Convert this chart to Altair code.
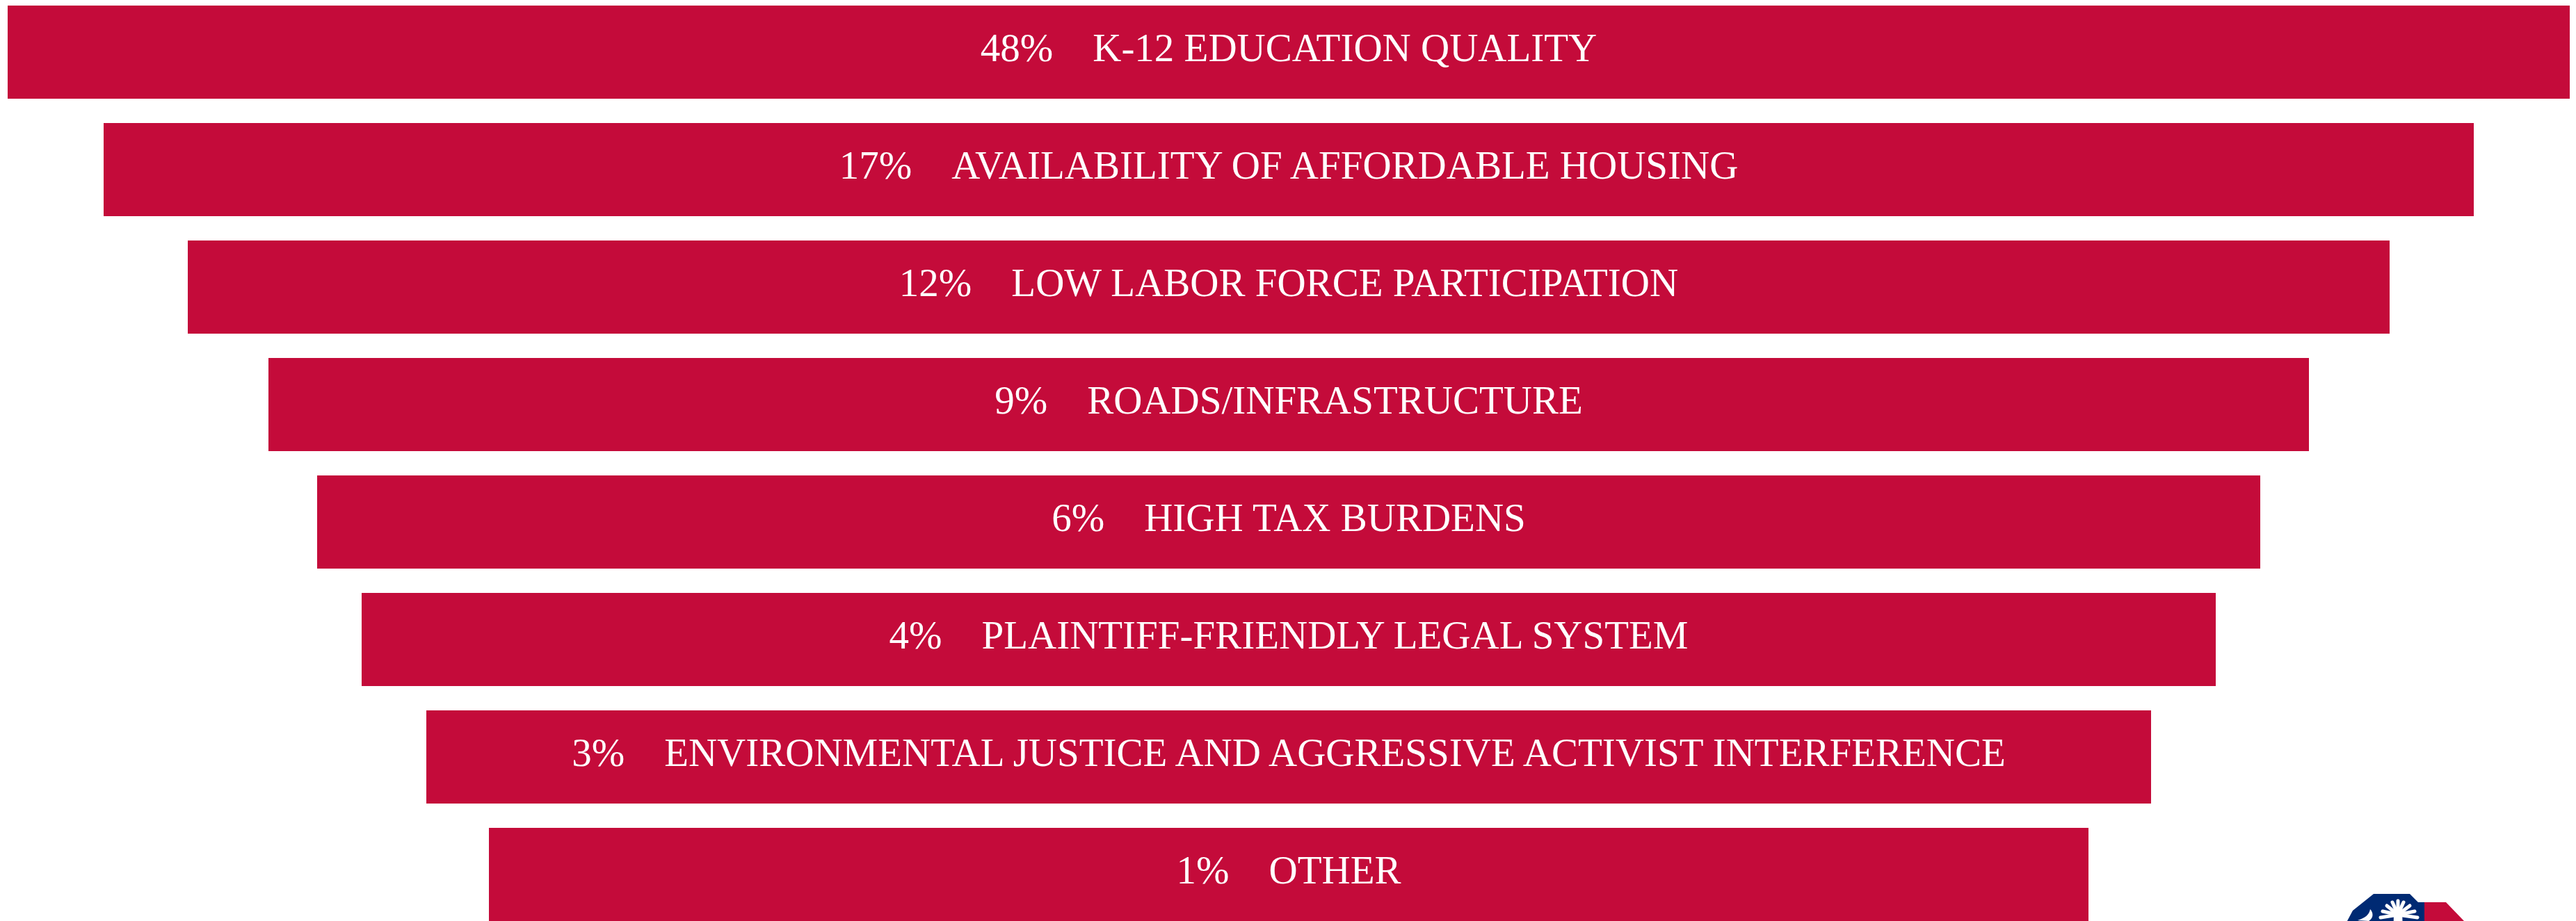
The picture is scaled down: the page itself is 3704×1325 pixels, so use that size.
import urllib.parse
import altair as alt
import pandas as pd

percents = ["48%", "17%", "12%", "9%", "6%", "4%", "3%", "1%"]
issues = [
    "K-12 EDUCATION QUALITY",
    "AVAILABILITY OF AFFORDABLE HOUSING",
    "LOW LABOR FORCE PARTICIPATION",
    "ROADS/INFRASTRUCTURE",
    "HIGH TAX BURDENS",
    "PLAINTIFF-FRIENDLY LEGAL SYSTEM",
    "ENVIRONMENTAL JUSTICE AND AGGRESSIVE ACTIVIST INTERFERENCE",
    "OTHER",
]
funnel_widths = [3684, 3408, 3166, 2934, 2794, 2666, 2480, 2300]
GAP = "\u00a0" * 4

df = pd.DataFrame({
    "issue": issues,
    "half": [w / 2 for w in funnel_widths],
    "label": [p + GAP + i for p, i in zip(percents, issues)],
})
df["left"] = -df["half"]

x_scale = alt.Scale(domain=[-1845, 1843], range=[0, 3688], nice=False, zero=False)
y_scale = alt.Scale(domain=issues, paddingInner=35 / 169, paddingOuter=0)
X = alt.X("left:Q", scale=x_scale, axis=None)
Y = alt.Y("issue:N", scale=y_scale, axis=None, sort=None)

bars = alt.Chart(df).mark_bar(color="#C40B3A", stroke=None).encode(
    x=X, x2="half:Q", y=Y
)
text = alt.Chart(df).mark_text(
    font="Liberation Serif", fontSize=57, color="white", align="center",
    baseline="alphabetic", dy=13,
).encode(
    x=alt.value(1845), y=alt.Y("issue:N", scale=y_scale, axis=None, sort=None,
                               bandPosition=0.5),
    text="label:N",
)

fronds = "".join(
    f'<path d="M82 32 L{a} {b}" stroke="#fff" stroke-width="5" stroke-linecap="round"/>'
    for a, b in [(82, 12), (74, 14), (90, 14), (66, 19), (99, 19), (60, 27), (106, 27), (57, 36), (110, 36)]
)
logo_svg = (
    '<svg xmlns="http://www.w3.org/2000/svg" width="180" height="80" viewBox="0 0 180 80">'
    '<path d="M9 41 L17 26 L47 2 L99 2 L111 14 L120 14 L120 80 L9 80 Z" fill="#002A73"/>'
    '<path d="M120 14 L151 14 L177 41 L177 80 L120 80 Z" fill="#C40B3A"/>'
    '<path d="M42 24 C41 32 34 37 24 40 L40 41 C47 37 47 29 42 24 Z" fill="#fff"/>'
    f'{fronds}<path d="M76 28 L88 28 L90 80 L75 80 Z" fill="#fff"/></svg>'
)
logo_url = "data:image/svg+xml," + urllib.parse.quote(logo_svg)
logo = alt.Chart(pd.DataFrame({"u": [logo_url]})).mark_image(
    width=180, height=80, align="left", baseline="top", clip=True
).encode(x=alt.value(3358), y=alt.value(1276), url="u:N")

chart = (bars + text + logo).properties(
    width=3688, height=1317, padding=0, background="white"
).configure_view(stroke=None)

chart.save("out.html", embed_options={"renderer": "svg", "actions": False})
